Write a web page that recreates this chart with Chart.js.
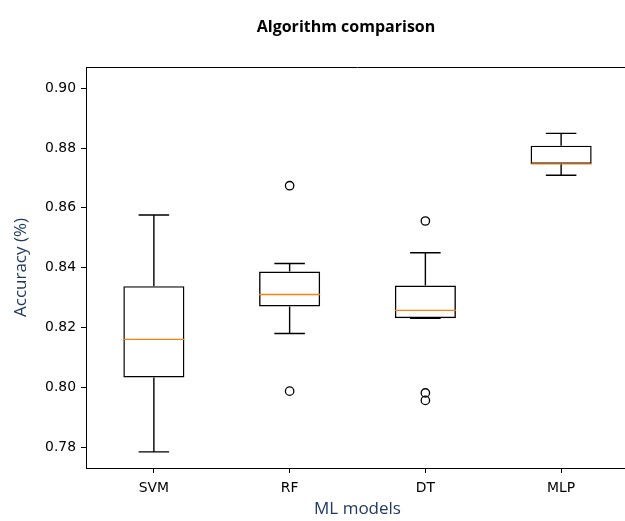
<!DOCTYPE html>
<html>
<head>
<meta charset="utf-8">
<title>Algorithm comparison</title>
<script src="https://cdn.jsdelivr.net/npm/chart.js@4"></script>
<style>
  html, body { margin: 0; padding: 0; background: #fff; overflow: hidden; }
  #wrap { width: 640px; height: 521px; }
</style>
</head>
<body>
<div id="wrap"><canvas id="boxChart" width="640" height="521"></canvas></div>
<script>
// accuracy of each model over the CV folds, summarised as box stats
var models = ['SVM', 'RF', 'DT', 'MLP'];
var whiskerLow = [0.7784, 0.8180, 0.8231, 0.8709];
var q1 = [0.8033, 0.8270, 0.8231, 0.8747];
var medians = [0.8160, 0.8310, 0.8257, 0.8747];
var q3 = [0.8338, 0.8387, 0.8340, 0.8808];
var whiskerHigh = [0.8576, 0.8414, 0.8450, 0.8849];
var outliers = [[], [0.7987, 0.8674], [0.7956, 0.7981, 0.8556], []];
var yTicks = [0.78, 0.80, 0.82, 0.84, 0.86, 0.88, 0.90];

var boxes = models.map(function (m, i) { return [q1[i], q3[i]]; });
var fliers = [];
models.forEach(function (m, i) {
    outliers[i].forEach(function (v) { fliers.push({x: m, y: v}); });
});

var tickFont = {family: 'DejaVu Sans', size: 13.9};
var labelFont = {family: 'Open Sans', size: 17, lineHeight: 1};
var labelColor = '#1f3a60';

// whiskers, caps and medians, placed through the chart's scales
var boxParts = {
    id: 'boxParts',
    afterDatasetsDraw: function (chart) {
        var ctx = chart.ctx;
        var xs = chart.scales.x, ys = chart.scales.y;
        var bars = chart.getDatasetMeta(0).data;
        ctx.save();
        ctx.lineWidth = 1.4;
        models.forEach(function (m, i) {
            var cx = xs.getPixelForValue(i);
            var w = bars[i].width;
            var cap = w / 4;
            ctx.strokeStyle = '#000';
            ctx.beginPath();
            ctx.moveTo(cx, ys.getPixelForValue(q3[i]));
            ctx.lineTo(cx, ys.getPixelForValue(whiskerHigh[i]));
            ctx.moveTo(cx, ys.getPixelForValue(q1[i]));
            ctx.lineTo(cx, ys.getPixelForValue(whiskerLow[i]));
            ctx.moveTo(cx - cap, ys.getPixelForValue(whiskerHigh[i]));
            ctx.lineTo(cx + cap, ys.getPixelForValue(whiskerHigh[i]));
            ctx.moveTo(cx - cap, ys.getPixelForValue(whiskerLow[i]));
            ctx.lineTo(cx + cap, ys.getPixelForValue(whiskerLow[i]));
            ctx.stroke();
            ctx.strokeStyle = '#ff7f0e';
            ctx.beginPath();
            ctx.moveTo(cx - w / 2, ys.getPixelForValue(medians[i]));
            ctx.lineTo(cx + w / 2, ys.getPixelForValue(medians[i]));
            ctx.stroke();
        });
        // top and right spines
        var a = chart.chartArea;
        ctx.strokeStyle = '#000';
        ctx.lineWidth = 1;
        ctx.beginPath();
        ctx.moveTo(a.left, a.top + 0.5);
        ctx.lineTo(a.right, a.top + 0.5);
        ctx.lineTo(a.right, a.bottom);
        ctx.stroke();
        // figure title
        ctx.fillStyle = '#000';
        ctx.font = 'bold 16px "Open Sans"';
        ctx.textAlign = 'center';
        ctx.textBaseline = 'middle';
        ctx.fillText('Algorithm comparison', 346, 27);
        ctx.restore();
    }
};

var boxChart = new Chart(document.getElementById('boxChart'), {
    type: 'bar',
    data: {
        labels: models,
        datasets: [{
            data: boxes,
            backgroundColor: 'rgba(0,0,0,0)',
            borderColor: '#000',
            borderWidth: 1.4,
            borderSkipped: false,
            barPercentage: 0.45,
            categoryPercentage: 1
        }, {
            type: 'line',
            data: fliers,
            showLine: false,
            pointRadius: 4.2,
            pointBorderWidth: 1.3,
            pointBorderColor: '#000',
            pointBackgroundColor: 'rgba(0,0,0,0)'
        }]
    },
    options: {
        responsive: false,
        animation: false,
        devicePixelRatio: 1,
        layout: {padding: {top: 67, right: 11, left: 0, bottom: 0}},
        plugins: {legend: {display: false}, tooltip: {enabled: false}},
        scales: {
            x: {
                type: 'category',
                offset: true,
                afterFit: function (s) { s.height = 53; },
                grid: {offset: false, drawOnChartArea: false, tickLength: 5, color: '#000'},
                border: {color: '#000', width: 1},
                ticks: {font: tickFont, color: '#000', padding: 7},
                title: {display: true, text: 'ML models', font: labelFont, color: labelColor,
                        padding: {top: 0, bottom: 3}}
            },
            y: {
                min: 0.7730,
                max: 0.9071,
                afterFit: function (s) { s.width = 86; },
                afterBuildTicks: function (s) {
                    s.ticks = yTicks.map(function (v) { return {value: v}; });
                },
                grid: {drawOnChartArea: false, tickLength: 5, color: '#000'},
                border: {color: '#000', width: 1},
                ticks: {
                    font: tickFont, color: '#000', padding: 5,
                    callback: function (v) { return v.toFixed(2); }
                },
                title: {display: true, text: 'Accuracy (%)', font: labelFont, color: labelColor,
                        padding: {top: 13, bottom: 0}}
            }
        }
    },
    plugins: [boxParts]
});
</script>
</body>
</html>
